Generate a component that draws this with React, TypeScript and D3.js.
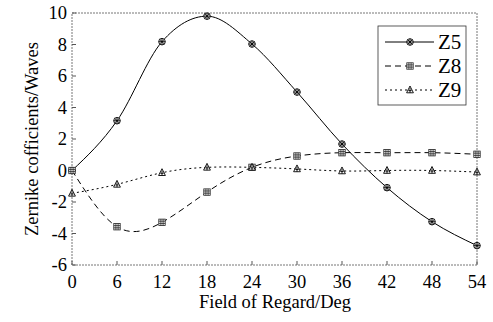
import React from "react";
import * as d3 from "d3";

const fields = [0, 6, 12, 18, 24, 30, 36, 42, 48, 54];
const z5 = [0, 3.16, 8.18, 9.8, 8.03, 4.98, 1.68, -1.09, -3.25, -4.77];
const z8 = [0, -3.57, -3.29, -1.37, 0.2, 0.92, 1.13, 1.13, 1.13, 1.03];
const z9 = [-1.45, -0.88, -0.14, 0.2, 0.2, 0.1, -0.03, 0.0, 0.0, -0.1];
const xTicks = [0, 6, 12, 18, 24, 30, 36, 42, 48, 54];
const yTicks = [-6, -4, -2, 0, 2, 4, 6, 8, 10];
const seriesNames = ["Z5", "Z8", "Z9"];

const W = 493, H = 322;
const L = 72, R = 477, T = 13, B = 265;
const FONT = "Liberation Serif";

function Marker({ kind, x, y }: { kind: string; x: number; y: number }) {
  if (kind === "Z5") {
    const r = 3.3;
    return (
      <g transform={`translate(${x},${y})`} stroke="#000" strokeWidth={0.9} fill="#fff">
        <circle r={r} />
        <line x1={-r} y1={0} x2={r} y2={0} />
        <line x1={0} y1={-r} x2={0} y2={r} />
        <line x1={-2.3} y1={-2.3} x2={2.3} y2={2.3} />
        <line x1={-2.3} y1={2.3} x2={2.3} y2={-2.3} />
      </g>
    );
  }
  if (kind === "Z8") {
    const s = 3.2;
    return (
      <g transform={`translate(${x},${y})`} stroke="#222" strokeWidth={0.8} fill="#fff">
        <rect x={-s} y={-s} width={2 * s} height={2 * s} />
        <line x1={-s} y1={-1.1} x2={s} y2={-1.1} />
        <line x1={-s} y1={1.1} x2={s} y2={1.1} />
        <line x1={-1.1} y1={-s} x2={-1.1} y2={s} />
        <line x1={1.1} y1={-s} x2={1.1} y2={s} />
      </g>
    );
  }
  return (
    <g transform={`translate(${x},${y})`} stroke="#000" strokeWidth={0.9} fill="#fff">
      <path d="M0,-4 L3.4,2.8 L-3.4,2.8 Z" />
      <line x1={-1.6} y1={0.6} x2={1.6} y2={0.6} />
      <line x1={0} y1={-2} x2={0} y2={2.8} />
    </g>
  );
}

export default function App() {
  const x = d3.scaleLinear().domain([0, 54]).range([L, R]);
  const y = d3.scaleLinear().domain([-6, 10]).range([B, T]);
  const mk = (c: any) =>
    d3
      .line<[number, number]>()
      .x((d) => x(d[0]))
      .y((d) => y(d[1]))
      .curve(c);
  const all = [z5, z8, z9];
  const curves = [mk(d3.curveMonotoneX), mk(d3.curveNatural), mk(d3.curveNatural)];
  const dashes = [undefined, "6,4", "2,3"];

  return (
    <svg width={W} height={H} fontFamily={FONT} style={{ position: "absolute", left: 0, top: 0, background: "#fff", fontFamily: FONT }}>
      <rect x={0} y={0} width={W} height={H} fill="#fff" />
      <rect x={L} y={T} width={R - L} height={B - T} fill="none" stroke="#777" strokeWidth={1} strokeDasharray="2,1" />
      {xTicks.map((t) => (
        <line key={"xl" + t} x1={x(t)} x2={x(t)} y1={B} y2={B - 4} stroke="#555" />
      ))}
      {yTicks.map((t) => (
        <line key={"yl" + t} x1={L} x2={L + 4} y1={y(t)} y2={y(t)} stroke="#555" />
      ))}
      {all.map((s, i) => (
        <path
          key={"l" + i}
          d={curves[i](fields.map((f, j) => [f, s[j]] as [number, number])) || ""}
          fill="none"
          stroke="#000"
          strokeWidth={1}
          strokeDasharray={dashes[i]}
        />
      ))}
      {all.map((s, i) =>
        fields.map((f, j) => <Marker key={`m${i}-${j}`} kind={seriesNames[i]} x={x(f)} y={y(s[j])} />)
      )}
      <rect x={378} y={26} width={88} height={79} fill="#fff" stroke="#333" strokeWidth={0.8} />
      {seriesNames.map((n, i) => {
        const ly = 42 + i * 24;
        return (
          <g key={"lg" + n}>
            <line x1={385} x2={434} y1={ly} y2={ly} stroke="#000" strokeDasharray={dashes[i]} />
            <Marker kind={n} x={410} y={ly} />
          </g>
        );
      })}
      {xTicks.map((t) => (
        <text key={"xt" + t} x={x(t)} y={288} textAnchor="middle" fontFamily={FONT} fontSize={18.5} fill="#000">
          {t}
        </text>
      ))}
      {yTicks.map((t) => (
        <text key={"yt" + t} x={67} y={y(t) + 6} textAnchor="end" fontFamily={FONT} fontSize={18.5} fill="#000">
          {t}
        </text>
      ))}
      <text x={275} y={308} textAnchor="middle" fontFamily={FONT} fontSize={18.5} fill="#000">
        Field of Regard/Deg
      </text>
      <text transform={`translate(38,${(T + B) / 2}) rotate(-90)`} textAnchor="middle" fontFamily={FONT} fontSize={18.5} fill="#000">
        Zernike cofficients/Waves
      </text>
      {seriesNames.map((n, i) => (
        <text key={"lt" + n} x={438} y={42 + i * 24 + 7} fontFamily={FONT} fontSize={21} fill="#000">
          {n}
        </text>
      ))}
    </svg>
  );
}
